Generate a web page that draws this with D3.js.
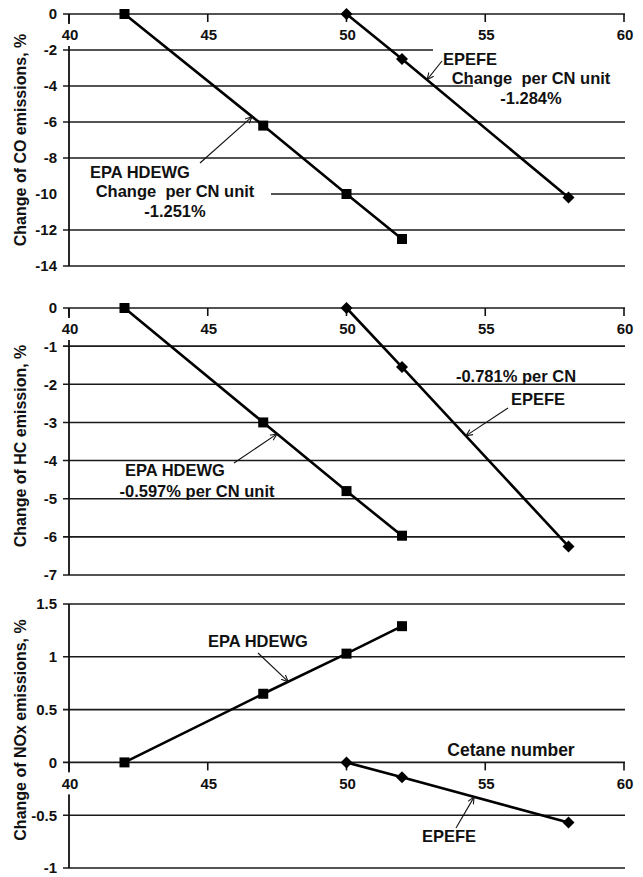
<!DOCTYPE html>
<html>
<head>
<meta charset="utf-8">
<script src="https://cdn.jsdelivr.net/npm/d3@7"></script>
<style>
  body { margin: 0; background: #fff; }
  svg text { font-family: "Liberation Sans", Arial, sans-serif; font-weight: bold; fill: #111; }
</style>
</head>
<body>
<div id="chart"></div>
<script>
// cetane number positions of the two test programmes
const cetaneTicks = [40, 45, 50, 55, 60];
const hdewgCN = [42, 47, 50, 52];
const epefeCN = [50, 52, 58];

// change of emissions, %
const coHdewg = [0, -6.2, -10.0, -12.5];
const coEpefe = [0, -2.5, -10.2];
const hcHdewg = [0, -3.0, -4.8, -5.97];
const hcEpefe = [0, -1.55, -6.25];
const noxHdewg = [0, 0.65, 1.03, 1.29];
const noxEpefe = [0, -0.14, -0.57];

// y tick values for each panel
const coTicks = [0, -2, -4, -6, -8, -10, -12, -14];
const hcTicks = [0, -1, -2, -3, -4, -5, -6, -7];
const noxTicks = [1.5, 1, 0.5, 0, -0.5, -1];

const width = 643, height = 877;
const svg = d3.select("#chart").append("svg")
    .attr("width", width)
    .attr("height", height);

svg.append("defs").append("marker")
    .attr("id", "arrow")
    .attr("viewBox", "0 0 10 10")
    .attr("refX", 9).attr("refY", 5)
    .attr("markerWidth", 7).attr("markerHeight", 7)
    .attr("orient", "auto")
  .append("path")
    .attr("d", "M0,1 L9,5 L0,9")
    .attr("fill", "none")
    .attr("stroke", "#111")
    .attr("stroke-width", 1.4);

const x = d3.scaleLinear().domain([40, 60]).range([69, 624]);

function zipSeries(cn, vals) {
    return cn.map(function(c, i) { return {cn: c, v: vals[i]}; });
}

const panels = [
    {
        title: "Change of CO emissions, %",
        domain: [0, -14], range: [14, 266], ticks: coTicks,
        hdewg: zipSeries(hdewgCN, coHdewg), epefe: zipSeries(epefeCN, coEpefe),
        titleY: 140,
        boxes: [[433, 44, 200, 14], [473, 70, 160, 36], [60, 186, 211, 16]],
        notes: [
            {lines: ["EPEFE"], x: 443, y: 65, anchor: "start"},
            {lines: ["Change  per CN unit", "-1.284%"], x: 531, y: 84, anchor: "middle"},
            {lines: ["EPA HDEWG"], x: 90, y: 178, anchor: "start"},
            {lines: ["Change  per CN unit", "-1.251%"], x: 175, y: 197, anchor: "middle"}
        ],
        arrows: [
            {from: [442, 61], series: "epefe", at: 52.9},
            {from: [200, 163], series: "hdewg", at: 46.6}
        ]
    },
    {
        title: "Change of HC emission, %",
        domain: [0, -7], range: [308, 575], ticks: hcTicks,
        hdewg: zipSeries(hdewgCN, hcHdewg), epefe: zipSeries(epefeCN, hcEpefe),
        titleY: 446,
        boxes: [],
        notes: [
            {lines: ["-0.781% per CN"], x: 516, y: 382, anchor: "middle"},
            {lines: ["EPEFE"], x: 538, y: 405, anchor: "middle"},
            {lines: ["EPA HDEWG"], x: 175, y: 476, anchor: "middle"},
            {lines: ["-0.597% per CN unit"], x: 197, y: 497, anchor: "middle"}
        ],
        arrows: [
            {from: [508, 408], series: "epefe", at: 54.3},
            {from: [234, 463], series: "hdewg", at: 47.5}
        ]
    },
    {
        title: "Change of NOx emissions, %",
        domain: [1.5, -1], range: [604, 868], ticks: noxTicks,
        hdewg: zipSeries(hdewgCN, noxHdewg), epefe: zipSeries(epefeCN, noxEpefe),
        titleY: 730,
        boxes: [],
        notes: [
            {lines: ["EPA HDEWG"], x: 258, y: 647, anchor: "middle"},
            {lines: ["Cetane number"], x: 511, y: 756, anchor: "middle", size: 17.5},
            {lines: ["EPEFE"], x: 449, y: 842, anchor: "middle"}
        ],
        arrows: [
            {from: [258, 653], series: "hdewg", at: 47.9},
            {from: [456, 828], series: "epefe", at: 54.6}
        ]
    }
];

const line = d3.line();

panels.forEach(function(p) {
    const y = d3.scaleLinear().domain(p.domain).range(p.range);
    const g = svg.append("g");
    const y0 = y(0);

    // horizontal gridlines, starting a little left of the axis as ticks
    g.selectAll(".grid")
        .data(p.ticks)
        .enter()
        .append("line")
            .attr("x1", x(40) - 6)
            .attr("x2", x(60) + 1)
            .attr("y1", function(d) { return y(d); })
            .attr("y2", function(d) { return y(d); })
            .attr("stroke", "#1a1a1a")
            .attr("stroke-width", 1.6);

    // white text-box backgrounds that cut the gridlines
    p.boxes.forEach(function(b) {
        g.append("rect")
            .attr("x", b[0]).attr("y", b[1])
            .attr("width", b[2]).attr("height", b[3])
            .attr("fill", "#fff");
    });

    // y axis
    g.append("line")
        .attr("x1", x(40)).attr("x2", x(40))
        .attr("y1", y(p.domain[0])).attr("y2", y(p.domain[1]))
        .attr("stroke", "#111")
        .attr("stroke-width", 1.8);

    g.selectAll(".ylab")
        .data(p.ticks)
        .enter()
        .append("text")
            .attr("x", 57)
            .attr("y", function(d) { return y(d); })
            .attr("dy", "0.36em")
            .attr("text-anchor", "end")
            .attr("font-size", 15)
            .text(function(d) { return d; });

    // x ticks on the zero line
    g.selectAll(".xtick")
        .data(cetaneTicks)
        .enter()
        .append("line")
            .attr("x1", function(d) { return x(d); })
            .attr("x2", function(d) { return x(d); })
            .attr("y1", y0).attr("y2", y0 + 8)
            .attr("stroke", "#111")
            .attr("stroke-width", 1.6);

    g.selectAll(".xbox")
        .data(cetaneTicks)
        .enter()
        .append("rect")
            .attr("x", function(d) { return x(d) - 13; })
            .attr("y", y0 + 10)
            .attr("width", 26).attr("height", 22)
            .attr("fill", "#fff");

    g.selectAll(".xlab")
        .data(cetaneTicks)
        .enter()
        .append("text")
            .attr("x", function(d) { return x(d) + 1; })
            .attr("y", y0 + 21)
            .attr("dy", "0.36em")
            .attr("text-anchor", "middle")
            .attr("font-size", 15)
            .text(function(d) { return d; });

    // axis title
    g.append("text")
        .attr("transform", "translate(26," + p.titleY + ") rotate(-90)")
        .attr("text-anchor", "middle")
        .attr("font-size", 16)
        .text(p.title);

    // data lines
    ["hdewg", "epefe"].forEach(function(key) {
        g.append("path")
            .attr("d", line(p[key].map(function(d) { return [x(d.cn), y(d.v)]; })))
            .attr("fill", "none")
            .attr("stroke", "#000")
            .attr("stroke-width", 2.6);
    });

    g.selectAll(".sq")
        .data(p.hdewg)
        .enter()
        .append("rect")
            .attr("x", function(d) { return x(d.cn) - 5; })
            .attr("y", function(d) { return y(d.v) - 5; })
            .attr("width", 10).attr("height", 10)
            .attr("fill", "#000");

    g.selectAll(".dm")
        .data(p.epefe)
        .enter()
        .append("path")
            .attr("transform", function(d) {
                return "translate(" + x(d.cn) + "," + y(d.v) + ")";
            })
            .attr("d", "M0,-6 L6,0 L0,6 L-6,0 Z")
            .attr("fill", "#000");

    // annotations
    p.notes.forEach(function(n) {
        n.lines.forEach(function(t, i) {
            g.append("text")
                .attr("x", n.x)
                .attr("y", n.y + i * 20)
                .attr("text-anchor", n.anchor)
                .attr("font-size", n.size || 16.5)
                .style("white-space", "pre")
                .text(t);
        });
    });

    p.arrows.forEach(function(a) {
        const s = p[a.series];
        const v = d3.scaleLinear()
            .domain(s.map(function(d) { return d.cn; }))
            .range(s.map(function(d) { return d.v; }))(a.at);
        g.append("line")
            .attr("x1", a.from[0]).attr("y1", a.from[1])
            .attr("x2", x(a.at)).attr("y2", y(v))
            .attr("stroke", "#111")
            .attr("stroke-width", 1.1)
            .attr("marker-end", "url(#arrow)");
    });
});
</script>
</body>
</html>
